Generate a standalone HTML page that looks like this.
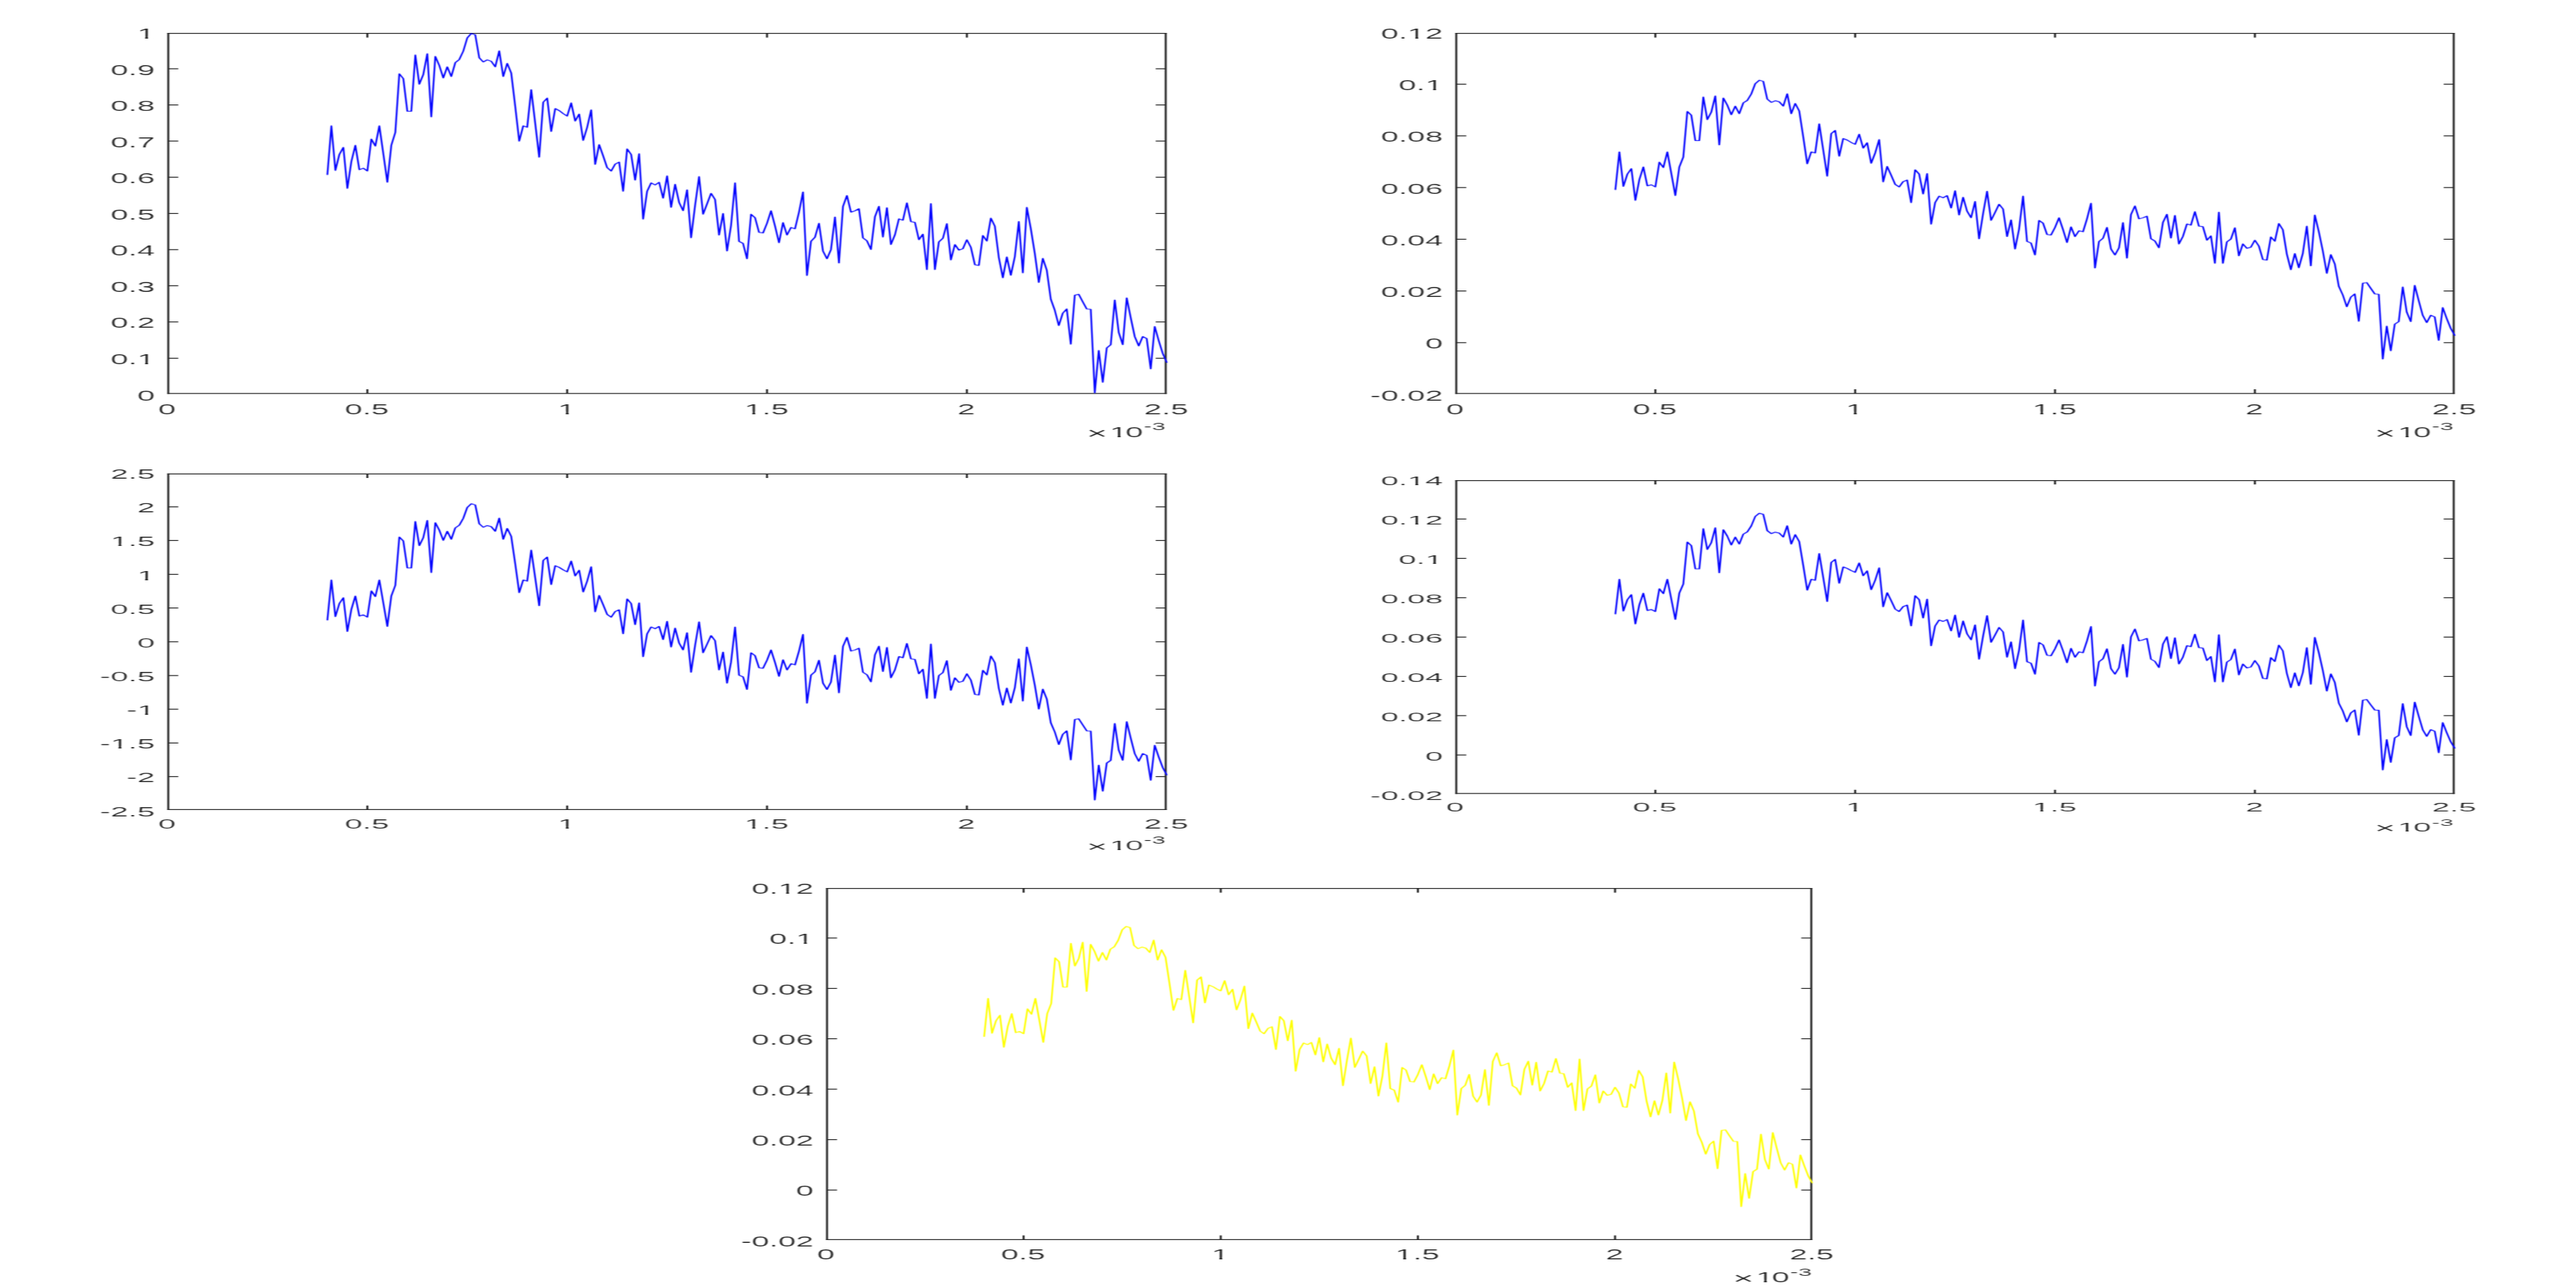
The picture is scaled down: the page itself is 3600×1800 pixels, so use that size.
<!DOCTYPE html><html><head><meta charset="utf-8"><title>figure</title><style>html,body{margin:0;padding:0;background:#fff;width:3600px;height:1800px;overflow:hidden}svg{display:block}text{font-family:"Liberation Sans",Arial,Helvetica,sans-serif;fill:#262626;font-kerning:none}</style></head><body>
<svg width="3600" height="1800" viewBox="0 0 3600 1800">
<defs><filter id="bl" filterUnits="userSpaceOnUse" x="0" y="0" width="3600" height="1800" color-interpolation-filters="sRGB"><feConvolveMatrix order="5 1" kernelMatrix="0.01520 0.21875 0.53210 0.21875 0.01520" edgeMode="duplicate" preserveAlpha="true"/></filter><filter id="bc" filterUnits="userSpaceOnUse" x="0" y="0" width="3600" height="1800" color-interpolation-filters="sRGB"><feConvolveMatrix order="1 3" kernelMatrix="0.10651 0.78699 0.10651" edgeMode="none"/></filter><filter id="er" filterUnits="userSpaceOnUse" x="0" y="0" width="3600" height="1800" color-interpolation-filters="sRGB"><feMorphology in="SourceGraphic" operator="erode" radius="1 0" result="e"/><feComposite in="SourceGraphic" in2="e" operator="arithmetic" k1="0" k2="0.65" k3="0.35" k4="0"/></filter></defs>
<g filter="url(#bl)">
<rect width="3600" height="1800" fill="#fff"/>
<path d="M235.2 500.54H249.2M1629.1 500.54H1615.1M235.2 449.98H249.2M1629.1 449.98H1615.1M235.2 399.42H249.2M1629.1 399.42H1615.1M235.2 348.86H249.2M1629.1 348.86H1615.1M235.2 298.30H249.2M1629.1 298.30H1615.1M235.2 247.74H249.2M1629.1 247.74H1615.1M235.2 197.18H249.2M1629.1 197.18H1615.1M235.2 146.62H249.2M1629.1 146.62H1615.1M235.2 96.06H249.2M1629.1 96.06H1615.1M233.8 46.65H1630.5M233.8 549.90H1630.5" stroke="#262626" stroke-width="1.25" fill="none"/>
<path d="M513.38 549.9V543.9M513.38 46.6V52.6M792.66 549.9V543.9M792.66 46.6V52.6M1071.94 549.9V543.9M1071.94 46.6V52.6M1351.22 549.9V543.9M1351.22 46.6V52.6M235.15 46.0V550.5M1629.10 46.0V550.5" stroke="#262626" stroke-width="2.80" fill="none"/>
<g filter="url(#bc)"><g transform="scale(2.8125 1.25)"><polyline points="162.68,195.12 164.66,140.72 166.65,190.48 168.63,172.72 170.62,164.80 172.61,210.64 174.59,180.64 176.58,162.48 178.56,189.68 180.55,188.08 182.54,191.20 184.52,155.52 186.51,163.28 188.49,140.72 190.48,172.00 192.47,203.68 194.45,162.40 196.44,148.00 198.42,82.48 200.41,87.92 202.40,124.40 204.38,124.40 206.37,61.52 208.35,94.16 210.34,83.28 212.32,60.00 214.31,130.64 216.30,63.04 218.28,73.20 220.27,87.12 222.25,74.72 224.24,85.60 226.23,70.08 228.21,66.56 230.20,57.20 232.18,42.40 234.17,37.44 236.16,38.96 238.14,64.64 240.13,69.28 242.11,66.96 244.10,68.48 246.09,74.72 248.07,56.88 250.06,85.60 252.04,70.80 254.03,81.68 256.02,118.96 258.00,157.84 259.99,140.72 261.97,142.32 263.96,100.32 265.95,137.92 267.93,175.68 269.92,114.32 271.90,109.68 273.89,146.96 275.88,121.36 277.86,123.68 279.85,127.04 281.83,129.84 283.82,115.12 285.81,135.28 287.79,127.52 289.78,157.04 291.76,142.40 293.75,122.88 295.74,183.84 297.72,161.68 299.71,174.24 301.69,187.44 303.68,191.28 305.67,183.52 307.65,181.20 309.64,213.84 311.62,166.48 313.61,172.64 315.60,201.36 317.58,171.92 319.57,244.88 321.55,213.84 323.54,204.48 325.53,206.80 327.51,203.76 329.50,221.60 331.48,196.72 333.47,231.68 335.46,206.08 337.44,226.24 339.43,235.60 341.41,212.24 343.40,265.84 345.39,229.60 347.37,197.52 349.36,239.44 351.34,227.84 353.33,216.16 355.32,223.12 357.30,262.72 359.29,238.64 361.27,280.64 363.26,252.00 365.25,204.48 367.23,269.84 369.22,272.16 371.20,289.28 373.19,239.52 375.18,243.44 377.16,259.76 379.15,260.48 381.13,249.60 383.12,235.68 385.11,252.72 387.09,271.36 389.08,248.88 391.06,262.80 393.05,254.32 395.04,255.84 397.02,237.20 399.01,214.64 400.99,307.92 402.98,269.84 404.97,265.20 406.95,249.60 408.94,280.72 410.92,289.28 412.91,279.12 414.90,242.64 416.88,293.92 418.87,230.96 420.85,218.56 422.84,237.20 424.83,235.68 426.81,233.36 428.80,265.92 430.78,269.28 432.77,278.96 434.76,242.32 436.74,230.64 438.73,264.88 440.71,232.24 442.70,273.36 444.69,262.56 446.67,244.64 448.66,246.24 450.64,226.80 452.63,247.76 454.62,248.56 456.60,268.00 458.59,261.76 460.57,301.36 462.56,227.60 464.55,301.36 466.53,270.32 468.52,266.40 470.50,250.08 472.49,290.48 474.48,273.36 476.46,279.60 478.45,278.08 480.43,268.00 482.42,276.48 484.41,295.92 486.39,296.72 488.38,263.28 490.36,269.52 492.35,243.84 494.34,252.96 496.32,288.00 498.31,310.48 500.29,287.28 502.28,307.68 504.27,286.96 506.25,247.68 508.24,304.96 510.22,231.84 512.21,255.68 514.20,283.52 516.18,315.84 518.17,288.80 520.15,302.16 522.14,334.56 524.13,346.96 526.11,364.00 528.10,350.08 530.08,345.36 532.07,384.80 534.06,330.00 536.04,329.04 538.03,337.44 540.01,345.44 542.00,345.84 543.99,439.20 545.97,391.76 547.96,427.36 549.94,389.04 551.93,385.44 553.92,335.36 555.90,371.68 557.89,385.36 559.87,333.04 561.86,355.28 563.85,376.32 565.83,386.72 567.82,376.24 569.80,378.56 571.79,412.40 573.78,365.04 575.76,380.80 577.75,395.12 579.73,405.12" fill="none" stroke="#0000ff" stroke-width="0.85" stroke-linejoin="round" stroke-linecap="round"/></g></g>
<path d="M2035.2 478.87H2049.2M3429.1 478.87H3415.1M2035.2 406.64H2049.2M3429.1 406.64H3415.1M2035.2 334.41H2049.2M3429.1 334.41H3415.1M2035.2 262.19H2049.2M3429.1 262.19H3415.1M2035.2 189.96H2049.2M3429.1 189.96H3415.1M2035.2 117.73H2049.2M3429.1 117.73H3415.1M2033.8 46.65H3430.5M2033.8 549.90H3430.5" stroke="#262626" stroke-width="1.25" fill="none"/>
<path d="M2313.38 549.9V543.9M2313.38 46.6V52.6M2592.66 549.9V543.9M2592.66 46.6V52.6M2871.94 549.9V543.9M2871.94 46.6V52.6M3151.22 549.9V543.9M3151.22 46.6V52.6M2035.15 46.0V550.5M3429.10 46.0V550.5" stroke="#262626" stroke-width="2.80" fill="none"/>
<g filter="url(#bc)"><g transform="scale(2.8125 1.25)"><polyline points="802.68,212.03 804.66,169.83 806.65,208.43 808.63,194.65 810.62,188.51 812.61,224.06 814.59,200.80 816.58,186.71 818.56,207.81 820.55,206.57 822.54,208.99 824.52,181.31 826.51,187.33 828.49,169.83 830.48,194.09 832.47,218.67 834.45,186.65 836.44,175.48 838.42,124.66 840.41,128.88 842.40,157.17 844.38,157.17 846.37,108.40 848.35,133.72 850.34,125.28 852.32,107.22 854.31,162.01 856.30,109.58 858.28,117.46 860.27,128.26 862.25,118.64 864.24,127.08 866.23,115.04 868.21,112.31 870.20,105.05 872.18,93.57 874.17,89.72 876.16,90.90 878.14,110.82 880.13,114.42 882.11,112.62 884.10,113.80 886.09,118.64 888.07,104.80 890.06,127.08 892.04,115.60 894.03,124.04 896.02,152.95 898.00,183.11 899.99,169.83 901.97,171.07 903.96,138.50 905.95,167.66 907.93,196.95 909.92,149.35 911.90,145.76 913.89,174.67 915.88,154.82 917.86,156.61 919.85,159.22 921.83,161.39 923.82,149.98 925.81,165.61 927.79,159.59 929.78,182.49 931.76,171.13 933.75,155.99 935.74,203.28 937.72,186.09 939.71,195.83 941.69,206.07 943.68,209.05 945.67,203.03 947.65,201.23 949.64,226.55 951.62,189.81 953.61,194.59 955.60,216.87 957.58,194.03 959.57,250.62 961.55,226.55 963.54,219.29 965.53,221.09 967.51,218.73 969.50,232.57 971.48,213.27 973.47,240.38 975.46,220.53 977.44,236.16 979.43,243.42 981.41,225.31 983.40,266.88 985.39,238.77 987.37,213.89 989.36,246.40 991.34,237.41 993.33,228.35 995.32,233.74 997.30,264.46 999.29,245.78 1001.27,278.36 1003.26,256.14 1005.25,219.29 1007.23,269.98 1009.22,271.78 1011.20,285.06 1013.19,246.46 1015.18,249.51 1017.16,262.16 1019.15,262.72 1021.13,254.28 1023.12,243.49 1025.11,256.70 1027.09,271.16 1029.08,253.72 1031.06,264.52 1033.05,257.94 1035.04,259.12 1037.02,244.67 1039.01,227.17 1040.99,299.52 1042.98,269.98 1044.97,266.38 1046.95,254.28 1048.94,278.42 1050.92,285.06 1052.91,277.18 1054.90,248.88 1056.88,288.66 1058.87,239.83 1060.85,230.21 1062.84,244.67 1064.83,243.49 1066.81,241.69 1068.80,266.94 1070.78,269.55 1072.77,277.06 1074.76,248.64 1076.74,239.58 1078.73,266.13 1080.71,240.82 1082.70,272.71 1084.69,264.34 1086.67,250.44 1088.66,251.68 1090.64,236.60 1092.63,252.86 1094.62,253.48 1096.60,268.55 1098.59,263.71 1100.57,294.43 1102.56,237.22 1104.55,294.43 1106.53,270.35 1108.52,267.31 1110.50,254.66 1112.49,285.99 1114.48,272.71 1116.46,277.55 1118.45,276.37 1120.43,268.55 1122.42,275.13 1124.41,290.21 1126.39,290.83 1128.38,264.89 1130.36,269.73 1132.35,249.82 1134.34,256.89 1136.32,284.07 1138.31,301.50 1140.29,283.51 1142.28,299.33 1144.27,283.26 1146.25,252.79 1148.24,297.22 1150.22,240.51 1152.21,259.00 1154.20,280.59 1156.18,305.66 1158.17,284.69 1160.15,295.05 1162.14,320.18 1164.13,329.80 1166.11,343.02 1168.10,332.22 1170.08,328.56 1172.07,359.15 1174.06,316.64 1176.04,315.90 1178.03,322.41 1180.01,328.62 1182.00,328.93 1183.99,401.34 1185.97,364.55 1187.96,392.16 1189.94,362.44 1191.93,359.65 1193.92,320.80 1195.90,348.97 1197.89,359.58 1199.87,319.00 1201.86,336.25 1203.85,352.57 1205.83,360.64 1207.82,352.51 1209.80,354.31 1211.79,380.56 1213.78,343.82 1215.76,356.05 1217.75,367.15 1219.73,374.91" fill="none" stroke="#0000ff" stroke-width="0.85" stroke-linejoin="round" stroke-linecap="round"/></g></g>
<path d="M235.2 1085.46H249.2M1629.1 1085.46H1615.1M235.2 1038.31H249.2M1629.1 1038.31H1615.1M235.2 991.17H249.2M1629.1 991.17H1615.1M235.2 944.02H249.2M1629.1 944.02H1615.1M235.2 896.88H249.2M1629.1 896.88H1615.1M235.2 849.73H249.2M1629.1 849.73H1615.1M235.2 802.59H249.2M1629.1 802.59H1615.1M235.2 755.44H249.2M1629.1 755.44H1615.1M235.2 708.29H249.2M1629.1 708.29H1615.1M233.8 662.30H1630.5M233.8 1131.40H1630.5" stroke="#262626" stroke-width="1.25" fill="none"/>
<path d="M513.38 1131.4V1125.8M513.38 662.3V667.9M792.66 1131.4V1125.8M792.66 662.3V667.9M1071.94 1131.4V1125.8M1071.94 662.3V667.9M1351.22 1131.4V1125.8M1351.22 662.3V667.9M235.15 661.7V1132.0M1629.10 661.7V1132.0" stroke="#262626" stroke-width="2.80" fill="none"/>
<g filter="url(#bc)"><g transform="scale(2.8125 1.25)"><polyline points="162.68,693.23 164.66,648.39 166.65,689.41 168.63,674.77 170.62,668.24 172.61,706.02 174.59,681.30 176.58,666.33 178.56,688.75 180.55,687.43 182.54,690.00 184.52,660.59 186.51,666.98 188.49,648.39 190.48,674.17 192.47,700.29 194.45,666.26 196.44,654.39 198.42,600.38 200.41,604.86 202.40,634.94 204.38,634.94 206.37,583.10 208.35,610.01 210.34,601.04 212.32,581.85 214.31,640.08 216.30,584.35 218.28,592.73 220.27,604.20 222.25,593.98 224.24,602.95 226.23,590.16 228.21,587.26 230.20,579.54 232.18,567.34 234.17,563.25 236.16,564.50 238.14,585.67 240.13,589.50 242.11,587.59 244.10,588.84 246.09,593.98 248.07,579.28 250.06,602.95 252.04,590.75 254.03,599.72 256.02,630.45 258.00,662.50 259.99,648.39 261.97,649.71 263.96,615.09 265.95,646.08 267.93,677.21 269.92,626.63 271.90,622.80 273.89,653.53 275.88,632.43 277.86,634.34 279.85,637.11 281.83,639.42 283.82,627.29 285.81,643.90 287.79,637.51 289.78,661.84 291.76,649.77 293.75,633.68 295.74,683.93 297.72,665.67 299.71,676.02 301.69,686.90 303.68,690.07 305.67,683.67 307.65,681.76 309.64,708.66 311.62,669.62 313.61,674.70 315.60,698.38 317.58,674.11 319.57,734.25 321.55,708.66 323.54,700.95 325.53,702.86 327.51,700.35 329.50,715.06 331.48,694.55 333.47,723.37 335.46,702.27 337.44,718.88 339.43,726.60 341.41,707.34 343.40,751.53 345.39,721.65 347.37,695.21 349.36,729.77 351.34,720.20 353.33,710.58 355.32,716.31 357.30,748.96 359.29,729.11 361.27,763.73 363.26,740.12 365.25,700.95 367.23,754.82 369.22,756.74 371.20,770.85 373.19,729.83 375.18,733.06 377.16,746.52 379.15,747.11 381.13,738.14 383.12,726.67 385.11,740.71 387.09,756.08 389.08,737.55 391.06,749.02 393.05,742.03 395.04,743.28 397.02,727.92 399.01,709.32 400.99,786.22 402.98,754.82 404.97,751.00 406.95,738.14 408.94,763.79 410.92,770.85 412.91,762.47 414.90,732.40 416.88,774.67 418.87,722.78 420.85,712.55 422.84,727.92 424.83,726.67 426.81,724.75 428.80,751.59 430.78,754.36 432.77,762.34 434.76,732.14 436.74,722.51 438.73,750.74 440.71,723.83 442.70,757.73 444.69,748.82 446.67,734.05 448.66,735.37 450.64,719.35 452.63,736.62 454.62,737.28 456.60,753.31 458.59,748.16 460.57,780.81 462.56,720.01 464.55,780.81 466.53,755.22 468.52,751.99 470.50,738.54 472.49,771.84 474.48,757.73 476.46,762.87 478.45,761.62 480.43,753.31 482.42,760.30 484.41,776.32 486.39,776.98 488.38,749.42 490.36,754.56 492.35,733.39 494.34,740.91 496.32,769.79 498.31,788.33 500.29,769.20 502.28,786.02 504.27,768.94 506.25,736.56 508.24,783.78 510.22,723.50 512.21,743.15 514.20,766.10 516.18,792.74 518.17,770.45 520.15,781.47 522.14,808.18 524.13,818.40 526.11,832.44 528.10,820.97 530.08,817.08 532.07,849.59 534.06,804.42 536.04,803.62 538.03,810.55 540.01,817.14 542.00,817.47 543.99,894.43 545.97,855.33 547.96,884.67 549.94,853.08 551.93,850.12 553.92,808.83 555.90,838.77 557.89,850.05 559.87,806.92 561.86,825.26 563.85,842.60 565.83,851.17 567.82,842.53 569.80,844.45 571.79,872.34 573.78,833.30 575.76,846.29 577.75,858.10 579.73,866.34" fill="none" stroke="#0000ff" stroke-width="0.85" stroke-linejoin="round" stroke-linecap="round"/></g></g>
<path d="M2035.2 1055.16H2049.2M3429.1 1055.16H3415.1M2035.2 1000.21H2049.2M3429.1 1000.21H3415.1M2035.2 945.27H2049.2M3429.1 945.27H3415.1M2035.2 890.33H2049.2M3429.1 890.33H3415.1M2035.2 835.38H2049.2M3429.1 835.38H3415.1M2035.2 780.44H2049.2M3429.1 780.44H3415.1M2035.2 725.49H2049.2M3429.1 725.49H3415.1M2033.8 671.70H3430.5M2033.8 1108.90H3430.5" stroke="#262626" stroke-width="1.25" fill="none"/>
<path d="M2313.38 1108.9V1103.7M2313.38 671.7V676.9M2592.66 1108.9V1103.7M2592.66 671.7V676.9M2871.94 1108.9V1103.7M2871.94 671.7V676.9M3151.22 1108.9V1103.7M3151.22 671.7V676.9M2035.15 671.1V1109.5M3429.10 671.1V1109.5" stroke="#262626" stroke-width="2.80" fill="none"/>
<g filter="url(#bc)"><g transform="scale(2.8125 1.25)"><polyline points="802.68,686.46 804.66,647.62 806.65,683.15 808.63,670.47 810.62,664.81 812.61,697.54 814.59,676.12 816.58,663.16 818.56,682.58 820.55,681.44 822.54,683.66 824.52,658.19 826.51,663.73 828.49,647.62 830.48,669.95 832.47,692.57 834.45,663.10 836.44,652.82 838.42,606.03 840.41,609.92 842.40,635.97 844.38,635.97 846.37,591.07 848.35,614.37 850.34,606.61 852.32,589.98 854.31,640.42 856.30,592.15 858.28,599.41 860.27,609.35 862.25,600.49 864.24,608.26 866.23,597.18 868.21,594.67 870.20,587.98 872.18,577.42 874.17,573.87 876.16,574.96 878.14,593.30 880.13,596.61 882.11,594.95 884.10,596.04 886.09,600.49 888.07,587.75 890.06,608.26 892.04,597.69 894.03,605.46 896.02,632.08 898.00,659.84 899.99,647.62 901.97,648.76 903.96,618.77 905.95,645.62 907.93,672.58 909.92,628.77 911.90,625.46 913.89,652.07 915.88,633.80 917.86,635.45 919.85,637.85 921.83,639.85 923.82,629.34 925.81,643.73 927.79,638.19 929.78,659.27 931.76,648.82 933.75,634.88 935.74,678.41 937.72,662.59 939.71,671.55 941.69,680.98 943.68,683.72 945.67,678.18 947.65,676.52 949.64,699.83 951.62,666.01 953.61,670.41 955.60,690.92 957.58,669.90 959.57,721.99 961.55,699.83 963.54,693.15 965.53,694.80 967.51,692.63 969.50,705.37 971.48,687.60 973.47,712.57 975.46,694.29 977.44,708.68 979.43,715.37 981.41,698.69 983.40,736.96 985.39,711.08 987.37,688.18 989.36,718.11 991.34,709.83 993.33,701.49 995.32,706.46 997.30,734.73 999.29,717.54 1001.27,747.53 1003.26,727.08 1005.25,693.15 1007.23,739.81 1009.22,741.47 1011.20,753.70 1013.19,718.17 1015.18,720.96 1017.16,732.62 1019.15,733.13 1021.13,725.36 1023.12,715.42 1025.11,727.59 1027.09,740.90 1029.08,724.85 1031.06,734.79 1033.05,728.73 1035.04,729.82 1037.02,716.51 1039.01,700.40 1040.99,767.01 1042.98,739.81 1044.97,736.50 1046.95,725.36 1048.94,747.58 1050.92,753.70 1052.91,746.44 1054.90,720.39 1056.88,757.01 1058.87,712.05 1060.85,703.20 1062.84,716.51 1064.83,715.42 1066.81,713.77 1068.80,737.02 1070.78,739.42 1072.77,746.33 1074.76,720.16 1076.74,711.82 1078.73,736.27 1080.71,712.97 1082.70,742.33 1084.69,734.62 1086.67,721.82 1088.66,722.96 1090.64,709.08 1092.63,724.05 1094.62,724.62 1096.60,738.50 1098.59,734.05 1100.57,762.32 1102.56,709.65 1104.55,762.32 1106.53,740.16 1108.52,737.36 1110.50,725.71 1112.49,754.55 1114.48,742.33 1116.46,746.78 1118.45,745.70 1120.43,738.50 1122.42,744.56 1124.41,758.44 1126.39,759.01 1128.38,735.13 1130.36,739.59 1132.35,721.25 1134.34,727.76 1136.32,752.78 1138.31,768.83 1140.29,752.27 1142.28,766.83 1144.27,752.04 1146.25,723.99 1148.24,764.89 1150.22,712.68 1152.21,729.70 1154.20,749.58 1156.18,772.66 1158.17,753.35 1160.15,762.89 1162.14,786.03 1164.13,794.88 1166.11,807.05 1168.10,797.11 1170.08,793.74 1172.07,821.90 1174.06,782.77 1176.04,782.09 1178.03,788.08 1180.01,793.80 1182.00,794.08 1183.99,860.74 1185.97,826.87 1187.96,852.29 1189.94,824.93 1191.93,822.36 1193.92,786.60 1195.90,812.53 1197.89,822.30 1199.87,784.94 1201.86,800.82 1203.85,815.84 1205.83,823.27 1207.82,815.79 1209.80,817.44 1211.79,841.61 1213.78,807.79 1215.76,819.04 1217.75,829.27 1219.73,836.41" fill="none" stroke="#0000ff" stroke-width="0.85" stroke-linejoin="round" stroke-linecap="round"/></g></g>
<path d="M1155.8 1663.14H1169.8M2531.3 1663.14H2517.3M1155.8 1592.67H1169.8M2531.3 1592.67H2517.3M1155.8 1522.21H1169.8M2531.3 1522.21H2517.3M1155.8 1451.74H1169.8M2531.3 1451.74H2517.3M1155.8 1381.28H1169.8M2531.3 1381.28H2517.3M1155.8 1310.81H1169.8M2531.3 1310.81H2517.3M1154.4 1241.50H2532.7M1154.4 1732.40H2532.7" stroke="#262626" stroke-width="1.25" fill="none"/>
<path d="M1430.48 1732.4V1726.5M1430.48 1241.5V1247.4M1706.01 1732.4V1726.5M1706.01 1241.5V1247.4M1981.54 1732.4V1726.5M1981.54 1241.5V1247.4M2257.07 1732.4V1726.5M2257.07 1241.5V1247.4M1155.80 1240.9V1733.0M2531.30 1240.9V1733.0" stroke="#262626" stroke-width="2.80" fill="none"/>
<g filter="url(#bc)"><g transform="scale(2.8125 1.25)"><polyline points="489.02,1158.73 490.98,1116.32 492.94,1155.12 494.90,1141.27 496.86,1135.10 498.82,1170.83 500.78,1147.44 502.74,1133.29 504.70,1154.49 506.66,1153.25 508.62,1155.68 510.57,1127.86 512.53,1133.91 514.49,1116.32 516.45,1140.71 518.41,1165.41 520.37,1133.22 522.33,1122.00 524.29,1070.92 526.25,1075.16 528.21,1103.60 530.17,1103.60 532.13,1054.58 534.09,1080.02 536.05,1071.54 538.00,1053.39 539.96,1108.46 541.92,1055.76 543.88,1063.68 545.84,1074.54 547.80,1064.87 549.76,1073.35 551.72,1061.25 553.68,1058.51 555.64,1051.21 557.60,1039.67 559.56,1035.80 561.52,1036.99 563.48,1057.01 565.44,1060.63 567.39,1058.82 569.35,1060.00 571.31,1064.87 573.27,1050.96 575.23,1073.35 577.19,1061.81 579.15,1070.29 581.11,1099.36 583.07,1129.67 585.03,1116.32 586.99,1117.57 588.95,1084.83 590.91,1114.14 592.87,1143.58 594.83,1095.74 596.78,1092.12 598.74,1121.19 600.70,1101.23 602.66,1103.04 604.62,1105.66 606.58,1107.84 608.54,1096.36 610.50,1112.08 612.46,1106.03 614.42,1129.05 616.38,1117.63 618.34,1102.41 620.30,1149.94 622.26,1132.66 624.22,1142.46 626.17,1152.75 628.13,1155.74 630.09,1149.69 632.05,1147.88 634.01,1173.33 635.97,1136.41 637.93,1141.21 639.89,1163.60 641.85,1140.65 643.81,1197.53 645.77,1173.33 647.73,1166.03 649.69,1167.84 651.65,1165.47 653.61,1179.38 655.56,1159.98 657.52,1187.24 659.48,1167.28 661.44,1183.00 663.40,1190.29 665.36,1172.08 667.32,1213.87 669.28,1185.61 671.24,1160.60 673.20,1193.29 675.16,1184.24 677.12,1175.14 679.08,1180.56 681.04,1211.44 682.99,1192.66 684.95,1225.41 686.91,1203.08 688.87,1166.03 690.83,1216.99 692.79,1218.79 694.75,1232.14 696.71,1193.35 698.67,1196.40 700.63,1209.13 702.59,1209.69 704.55,1201.21 706.51,1190.35 708.47,1203.64 710.43,1218.17 712.38,1200.65 714.34,1211.50 716.30,1204.89 718.26,1206.07 720.22,1191.54 722.18,1173.95 724.14,1246.67 726.10,1216.99 728.06,1213.37 730.02,1201.21 731.98,1225.47 733.94,1232.14 735.90,1224.22 737.86,1195.78 739.82,1235.76 741.77,1186.67 743.73,1177.01 745.69,1191.54 747.65,1190.35 749.61,1188.55 751.57,1213.93 753.53,1216.55 755.49,1224.10 757.45,1195.53 759.41,1186.43 761.37,1213.12 763.33,1187.67 765.29,1219.73 767.25,1211.31 769.21,1197.34 771.16,1198.59 773.12,1183.43 775.08,1199.77 777.04,1200.40 779.00,1215.55 780.96,1210.69 782.92,1241.56 784.88,1184.06 786.84,1241.56 788.80,1217.36 790.76,1214.30 792.72,1201.58 794.68,1233.08 796.64,1219.73 798.60,1224.60 800.55,1223.41 802.51,1215.55 804.47,1222.16 806.43,1237.32 808.39,1237.94 810.35,1211.87 812.31,1216.74 814.27,1196.72 816.23,1203.83 818.19,1231.14 820.15,1248.67 822.11,1230.58 824.07,1246.49 826.03,1230.33 827.98,1199.71 829.94,1244.37 831.90,1187.36 833.86,1205.95 835.82,1227.65 837.78,1252.85 839.74,1231.77 841.70,1242.18 843.66,1267.44 845.62,1277.11 847.58,1290.39 849.54,1279.54 851.50,1275.86 853.46,1306.61 855.42,1263.89 857.37,1263.14 859.33,1269.69 861.29,1275.92 863.25,1276.24 865.21,1349.02 867.17,1312.04 869.13,1339.79 871.09,1309.92 873.05,1307.11 875.01,1268.07 876.97,1296.38 878.93,1307.05 880.89,1266.26 882.85,1283.60 884.81,1300.00 886.76,1308.11 888.72,1299.94 890.68,1301.75 892.64,1328.13 894.60,1291.21 896.56,1303.49 898.52,1314.66 900.48,1322.45" fill="none" stroke="#ffff00" stroke-width="0.85" stroke-linejoin="round" stroke-linecap="round"/></g></g>
<g filter="url(#er)">
<text transform="translate(216.45 559.60) scale(2.2300 1.0000)" text-anchor="end" font-size="20">0</text>
<text transform="translate(216.45 509.04) scale(2.2300 1.0000)" text-anchor="end" font-size="20">0.1</text>
<text transform="translate(216.45 458.48) scale(2.2300 1.0000)" text-anchor="end" font-size="20">0.2</text>
<text transform="translate(216.45 407.92) scale(2.2300 1.0000)" text-anchor="end" font-size="20">0.3</text>
<text transform="translate(216.45 357.36) scale(2.2300 1.0000)" text-anchor="end" font-size="20">0.4</text>
<text transform="translate(216.45 306.80) scale(2.2300 1.0000)" text-anchor="end" font-size="20">0.5</text>
<text transform="translate(216.45 256.24) scale(2.2300 1.0000)" text-anchor="end" font-size="20">0.6</text>
<text transform="translate(216.45 205.68) scale(2.2300 1.0000)" text-anchor="end" font-size="20">0.7</text>
<text transform="translate(216.45 155.12) scale(2.2300 1.0000)" text-anchor="end" font-size="20">0.8</text>
<text transform="translate(216.45 104.56) scale(2.2300 1.0000)" text-anchor="end" font-size="20">0.9</text>
<text transform="translate(216.45 54.00) scale(2.2300 1.0000)" text-anchor="end" font-size="20">1</text>
<text transform="translate(233.40 578.60) scale(2.2300 1.0000)" text-anchor="middle" font-size="20">0</text>
<text transform="translate(512.68 578.60) scale(2.2300 1.0000)" text-anchor="middle" font-size="20">0.5</text>
<text transform="translate(791.96 578.60) scale(2.2300 1.0000)" text-anchor="middle" font-size="20">1</text>
<text transform="translate(1071.24 578.60) scale(2.2300 1.0000)" text-anchor="middle" font-size="20">1.5</text>
<text transform="translate(1350.52 578.60) scale(2.2300 1.0000)" text-anchor="middle" font-size="20">2</text>
<text transform="translate(1629.80 578.60) scale(2.2300 1.0000)" text-anchor="middle" font-size="20">2.5</text>
<text transform="translate(1629.10 549.90) scale(2.2300 1.0000)" font-size="20"><tspan x="-49.55" y="63.2" font-size="22.5">&#215;</tspan><tspan x="-35.11 -25.31" y="60.8">10</tspan><tspan x="-13.81 -8.70" y="51.55" font-size="15.5">-3</tspan></text>
<text transform="translate(2016.45 559.60) scale(2.2300 1.0000)" text-anchor="end" font-size="20">-0.02</text>
<text transform="translate(2016.45 487.37) scale(2.2300 1.0000)" text-anchor="end" font-size="20">0</text>
<text transform="translate(2016.45 415.14) scale(2.2300 1.0000)" text-anchor="end" font-size="20">0.02</text>
<text transform="translate(2016.45 342.91) scale(2.2300 1.0000)" text-anchor="end" font-size="20">0.04</text>
<text transform="translate(2016.45 270.69) scale(2.2300 1.0000)" text-anchor="end" font-size="20">0.06</text>
<text transform="translate(2016.45 198.46) scale(2.2300 1.0000)" text-anchor="end" font-size="20">0.08</text>
<text transform="translate(2016.45 126.23) scale(2.2300 1.0000)" text-anchor="end" font-size="20">0.1</text>
<text transform="translate(2016.45 54.00) scale(2.2300 1.0000)" text-anchor="end" font-size="20">0.12</text>
<text transform="translate(2033.40 578.60) scale(2.2300 1.0000)" text-anchor="middle" font-size="20">0</text>
<text transform="translate(2312.68 578.60) scale(2.2300 1.0000)" text-anchor="middle" font-size="20">0.5</text>
<text transform="translate(2591.96 578.60) scale(2.2300 1.0000)" text-anchor="middle" font-size="20">1</text>
<text transform="translate(2871.24 578.60) scale(2.2300 1.0000)" text-anchor="middle" font-size="20">1.5</text>
<text transform="translate(3150.52 578.60) scale(2.2300 1.0000)" text-anchor="middle" font-size="20">2</text>
<text transform="translate(3429.80 578.60) scale(2.2300 1.0000)" text-anchor="middle" font-size="20">2.5</text>
<text transform="translate(3429.10 549.90) scale(2.2300 1.0000)" font-size="20"><tspan x="-49.55" y="63.2" font-size="22.5">&#215;</tspan><tspan x="-35.11 -25.31" y="60.8">10</tspan><tspan x="-13.81 -8.70" y="51.55" font-size="15.5">-3</tspan></text>
<text transform="translate(216.45 1140.58) scale(2.2300 0.9321)" text-anchor="end" font-size="20">-2.5</text>
<text transform="translate(216.45 1093.43) scale(2.2300 0.9321)" text-anchor="end" font-size="20">-2</text>
<text transform="translate(216.45 1046.29) scale(2.2300 0.9321)" text-anchor="end" font-size="20">-1.5</text>
<text transform="translate(216.45 999.14) scale(2.2300 0.9321)" text-anchor="end" font-size="20">-1</text>
<text transform="translate(216.45 952.00) scale(2.2300 0.9321)" text-anchor="end" font-size="20">-0.5</text>
<text transform="translate(216.45 904.85) scale(2.2300 0.9321)" text-anchor="end" font-size="20">0</text>
<text transform="translate(216.45 857.71) scale(2.2300 0.9321)" text-anchor="end" font-size="20">0.5</text>
<text transform="translate(216.45 810.56) scale(2.2300 0.9321)" text-anchor="end" font-size="20">1</text>
<text transform="translate(216.45 763.42) scale(2.2300 0.9321)" text-anchor="end" font-size="20">1.5</text>
<text transform="translate(216.45 716.27) scale(2.2300 0.9321)" text-anchor="end" font-size="20">2</text>
<text transform="translate(216.45 669.13) scale(2.2300 0.9321)" text-anchor="end" font-size="20">2.5</text>
<text transform="translate(233.40 1158.15) scale(2.2300 0.9321)" text-anchor="middle" font-size="20">0</text>
<text transform="translate(512.68 1158.15) scale(2.2300 0.9321)" text-anchor="middle" font-size="20">0.5</text>
<text transform="translate(791.96 1158.15) scale(2.2300 0.9321)" text-anchor="middle" font-size="20">1</text>
<text transform="translate(1071.24 1158.15) scale(2.2300 0.9321)" text-anchor="middle" font-size="20">1.5</text>
<text transform="translate(1350.52 1158.15) scale(2.2300 0.9321)" text-anchor="middle" font-size="20">2</text>
<text transform="translate(1629.80 1158.15) scale(2.2300 0.9321)" text-anchor="middle" font-size="20">2.5</text>
<text transform="translate(1629.10 1131.40) scale(2.2300 0.9321)" font-size="20"><tspan x="-49.55" y="63.2" font-size="22.5">&#215;</tspan><tspan x="-35.11 -25.31" y="60.8">10</tspan><tspan x="-13.81 -8.70" y="51.55" font-size="15.5">-3</tspan></text>
<text transform="translate(2016.45 1117.59) scale(2.2300 0.8688)" text-anchor="end" font-size="20">-0.02</text>
<text transform="translate(2016.45 1062.65) scale(2.2300 0.8688)" text-anchor="end" font-size="20">0</text>
<text transform="translate(2016.45 1007.70) scale(2.2300 0.8688)" text-anchor="end" font-size="20">0.02</text>
<text transform="translate(2016.45 952.76) scale(2.2300 0.8688)" text-anchor="end" font-size="20">0.04</text>
<text transform="translate(2016.45 897.81) scale(2.2300 0.8688)" text-anchor="end" font-size="20">0.06</text>
<text transform="translate(2016.45 842.87) scale(2.2300 0.8688)" text-anchor="end" font-size="20">0.08</text>
<text transform="translate(2016.45 787.93) scale(2.2300 0.8688)" text-anchor="end" font-size="20">0.1</text>
<text transform="translate(2016.45 732.98) scale(2.2300 0.8688)" text-anchor="end" font-size="20">0.12</text>
<text transform="translate(2016.45 678.04) scale(2.2300 0.8688)" text-anchor="end" font-size="20">0.14</text>
<text transform="translate(2033.40 1133.83) scale(2.2300 0.8688)" text-anchor="middle" font-size="20">0</text>
<text transform="translate(2312.68 1133.83) scale(2.2300 0.8688)" text-anchor="middle" font-size="20">0.5</text>
<text transform="translate(2591.96 1133.83) scale(2.2300 0.8688)" text-anchor="middle" font-size="20">1</text>
<text transform="translate(2871.24 1133.83) scale(2.2300 0.8688)" text-anchor="middle" font-size="20">1.5</text>
<text transform="translate(3150.52 1133.83) scale(2.2300 0.8688)" text-anchor="middle" font-size="20">2</text>
<text transform="translate(3429.80 1133.83) scale(2.2300 0.8688)" text-anchor="middle" font-size="20">2.5</text>
<text transform="translate(3429.10 1108.90) scale(2.2300 0.8688)" font-size="20"><tspan x="-49.55" y="63.2" font-size="22.5">&#215;</tspan><tspan x="-35.11 -25.31" y="60.8">10</tspan><tspan x="-13.81 -8.70" y="51.55" font-size="15.5">-3</tspan></text>
<text transform="translate(1137.10 1741.91) scale(2.2300 0.9755)" text-anchor="end" font-size="20">-0.02</text>
<text transform="translate(1137.10 1671.45) scale(2.2300 0.9755)" text-anchor="end" font-size="20">0</text>
<text transform="translate(1137.10 1600.98) scale(2.2300 0.9755)" text-anchor="end" font-size="20">0.02</text>
<text transform="translate(1137.10 1530.52) scale(2.2300 0.9755)" text-anchor="end" font-size="20">0.04</text>
<text transform="translate(1137.10 1460.05) scale(2.2300 0.9755)" text-anchor="end" font-size="20">0.06</text>
<text transform="translate(1137.10 1389.59) scale(2.2300 0.9755)" text-anchor="end" font-size="20">0.08</text>
<text transform="translate(1137.10 1319.13) scale(2.2300 0.9755)" text-anchor="end" font-size="20">0.1</text>
<text transform="translate(1137.10 1248.66) scale(2.2300 0.9755)" text-anchor="end" font-size="20">0.12</text>
<text transform="translate(1154.25 1760.40) scale(2.2300 0.9755)" text-anchor="middle" font-size="20">0</text>
<text transform="translate(1429.78 1760.40) scale(2.2300 0.9755)" text-anchor="middle" font-size="20">0.5</text>
<text transform="translate(1705.31 1760.40) scale(2.2300 0.9755)" text-anchor="middle" font-size="20">1</text>
<text transform="translate(1980.84 1760.40) scale(2.2300 0.9755)" text-anchor="middle" font-size="20">1.5</text>
<text transform="translate(2256.37 1760.40) scale(2.2300 0.9755)" text-anchor="middle" font-size="20">2</text>
<text transform="translate(2531.90 1760.40) scale(2.2300 0.9755)" text-anchor="middle" font-size="20">2.5</text>
<text transform="translate(2532.30 1732.40) scale(2.2300 0.9755)" font-size="20"><tspan x="-49.55" y="63.2" font-size="22.5">&#215;</tspan><tspan x="-35.11 -25.31" y="60.8">10</tspan><tspan x="-13.81 -8.70" y="51.55" font-size="15.5">-3</tspan></text>
</g>
<g fill="#fff">
<g transform="translate(216.45 509.04) scale(2.2300 1.0000)"><rect x="-10.15" y="-4.10" width="4.02" height="5.18"/><rect x="-4.29" y="-4.10" width="3.86" height="5.18"/></g>
<g transform="translate(216.45 54.00) scale(2.2300 1.0000)"><rect x="-10.15" y="-4.10" width="4.02" height="5.18"/><rect x="-4.29" y="-4.10" width="3.86" height="5.18"/></g>
<g transform="translate(791.96 578.60) scale(2.2300 1.0000)"><rect x="-4.58" y="-4.10" width="4.02" height="5.18"/><rect x="1.27" y="-4.10" width="3.86" height="5.18"/></g>
<g transform="translate(1071.24 578.60) scale(2.2300 1.0000)"><rect x="-12.92" y="-4.10" width="4.02" height="5.18"/><rect x="-7.07" y="-4.10" width="3.86" height="5.18"/></g>
<g transform="translate(1629.10 549.90) scale(2.2300 1.0000)"><rect x="-34.14" y="56.70" width="4.02" height="5.18"/><rect x="-28.28" y="56.70" width="3.86" height="5.18"/></g>
<g transform="translate(2016.45 126.23) scale(2.2300 1.0000)"><rect x="-10.15" y="-4.10" width="4.02" height="5.18"/><rect x="-4.29" y="-4.10" width="3.86" height="5.18"/></g>
<g transform="translate(2016.45 54.00) scale(2.2300 1.0000)"><rect x="-21.27" y="-4.10" width="4.02" height="5.18"/><rect x="-15.41" y="-4.10" width="3.86" height="5.18"/></g>
<g transform="translate(2591.96 578.60) scale(2.2300 1.0000)"><rect x="-4.58" y="-4.10" width="4.02" height="5.18"/><rect x="1.27" y="-4.10" width="3.86" height="5.18"/></g>
<g transform="translate(2871.24 578.60) scale(2.2300 1.0000)"><rect x="-12.92" y="-4.10" width="4.02" height="5.18"/><rect x="-7.07" y="-4.10" width="3.86" height="5.18"/></g>
<g transform="translate(3429.10 549.90) scale(2.2300 1.0000)"><rect x="-34.14" y="56.70" width="4.02" height="5.18"/><rect x="-28.28" y="56.70" width="3.86" height="5.18"/></g>
<g transform="translate(216.45 1046.29) scale(2.2300 0.9321)"><rect x="-26.83" y="-4.10" width="4.02" height="5.18"/><rect x="-20.97" y="-4.10" width="3.86" height="5.18"/></g>
<g transform="translate(216.45 999.14) scale(2.2300 0.9321)"><rect x="-10.15" y="-4.10" width="4.02" height="5.18"/><rect x="-4.29" y="-4.10" width="3.86" height="5.18"/></g>
<g transform="translate(216.45 810.56) scale(2.2300 0.9321)"><rect x="-10.15" y="-4.10" width="4.02" height="5.18"/><rect x="-4.29" y="-4.10" width="3.86" height="5.18"/></g>
<g transform="translate(216.45 763.42) scale(2.2300 0.9321)"><rect x="-26.83" y="-4.10" width="4.02" height="5.18"/><rect x="-20.97" y="-4.10" width="3.86" height="5.18"/></g>
<g transform="translate(791.96 1158.15) scale(2.2300 0.9321)"><rect x="-4.58" y="-4.10" width="4.02" height="5.18"/><rect x="1.27" y="-4.10" width="3.86" height="5.18"/></g>
<g transform="translate(1071.24 1158.15) scale(2.2300 0.9321)"><rect x="-12.92" y="-4.10" width="4.02" height="5.18"/><rect x="-7.07" y="-4.10" width="3.86" height="5.18"/></g>
<g transform="translate(1629.10 1131.40) scale(2.2300 0.9321)"><rect x="-34.14" y="56.70" width="4.02" height="5.18"/><rect x="-28.28" y="56.70" width="3.86" height="5.18"/></g>
<g transform="translate(2016.45 787.93) scale(2.2300 0.8688)"><rect x="-10.15" y="-4.10" width="4.02" height="5.18"/><rect x="-4.29" y="-4.10" width="3.86" height="5.18"/></g>
<g transform="translate(2016.45 732.98) scale(2.2300 0.8688)"><rect x="-21.27" y="-4.10" width="4.02" height="5.18"/><rect x="-15.41" y="-4.10" width="3.86" height="5.18"/></g>
<g transform="translate(2016.45 678.04) scale(2.2300 0.8688)"><rect x="-21.27" y="-4.10" width="4.02" height="5.18"/><rect x="-15.41" y="-4.10" width="3.86" height="5.18"/></g>
<g transform="translate(2591.96 1133.83) scale(2.2300 0.8688)"><rect x="-4.58" y="-4.10" width="4.02" height="5.18"/><rect x="1.27" y="-4.10" width="3.86" height="5.18"/></g>
<g transform="translate(2871.24 1133.83) scale(2.2300 0.8688)"><rect x="-12.92" y="-4.10" width="4.02" height="5.18"/><rect x="-7.07" y="-4.10" width="3.86" height="5.18"/></g>
<g transform="translate(3429.10 1108.90) scale(2.2300 0.8688)"><rect x="-34.14" y="56.70" width="4.02" height="5.18"/><rect x="-28.28" y="56.70" width="3.86" height="5.18"/></g>
<g transform="translate(1137.10 1319.13) scale(2.2300 0.9755)"><rect x="-10.15" y="-4.10" width="4.02" height="5.18"/><rect x="-4.29" y="-4.10" width="3.86" height="5.18"/></g>
<g transform="translate(1137.10 1248.66) scale(2.2300 0.9755)"><rect x="-21.27" y="-4.10" width="4.02" height="5.18"/><rect x="-15.41" y="-4.10" width="3.86" height="5.18"/></g>
<g transform="translate(1705.31 1760.40) scale(2.2300 0.9755)"><rect x="-4.58" y="-4.10" width="4.02" height="5.18"/><rect x="1.27" y="-4.10" width="3.86" height="5.18"/></g>
<g transform="translate(1980.84 1760.40) scale(2.2300 0.9755)"><rect x="-12.92" y="-4.10" width="4.02" height="5.18"/><rect x="-7.07" y="-4.10" width="3.86" height="5.18"/></g>
<g transform="translate(2532.30 1732.40) scale(2.2300 0.9755)"><rect x="-34.14" y="56.70" width="4.02" height="5.18"/><rect x="-28.28" y="56.70" width="3.86" height="5.18"/></g>
</g>
</g></svg></body></html>
